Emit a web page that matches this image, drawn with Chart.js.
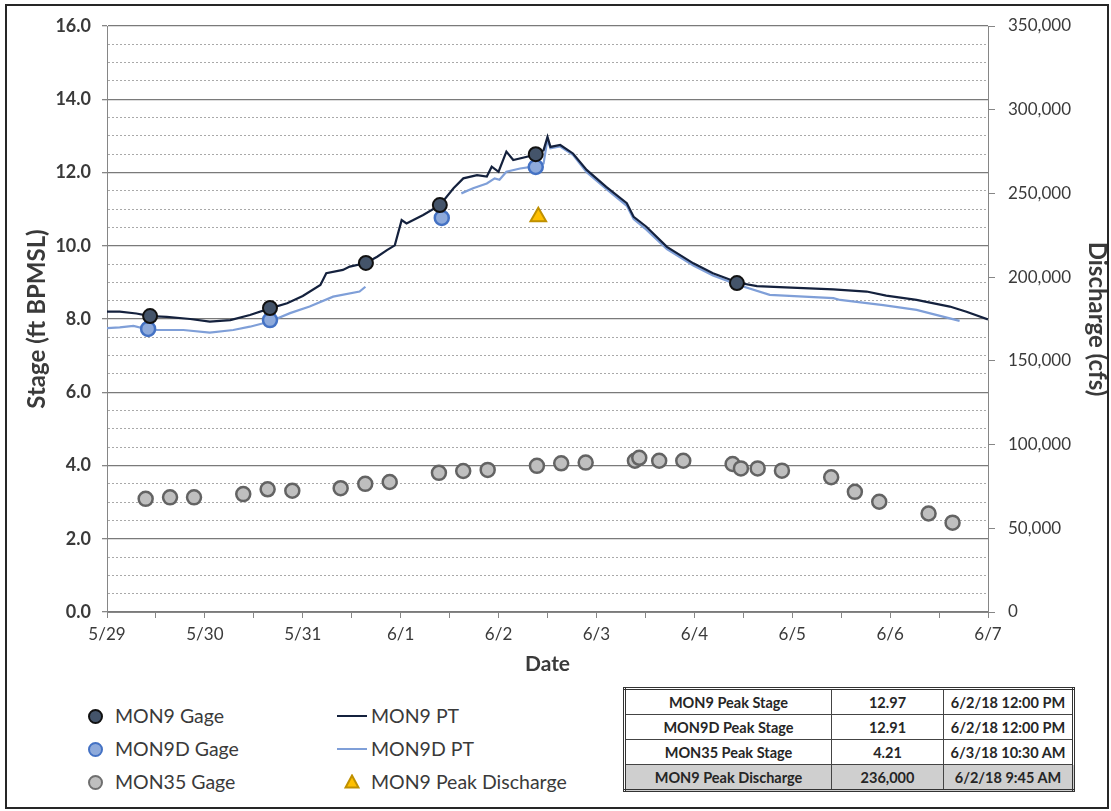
<!DOCTYPE html>
<html>
<head>
<meta charset="utf-8">
<script src="https://cdn.jsdelivr.net/npm/chart.js@4/dist/chart.umd.min.js"></script>
<style>
  html, body { margin: 0; padding: 0; background: #ffffff; }
  body { width: 1111px; height: 811px; position: relative; overflow: hidden; font-family: Lato, "Open Sans", sans-serif; color: #333; }
  #frame { position: absolute; left: 5px; top: 4px; width: 1104px; height: 805px; box-sizing: border-box; border: 2px solid #262626; pointer-events: none; }
  #wrap { position: absolute; left: 0; top: 0; width: 1111px; height: 680px; }
  .leg { position: absolute; font-size: 19.5px; color: #3a3a3a; line-height: 22px; }
  .dot { position: absolute; width: 11px; height: 11px; border-radius: 50%; box-sizing: content-box; }
  .ln { position: absolute; width: 30px; height: 0; }
  table { position: absolute; left: 623px; top: 687px; width: 452px; height: 101px; border-collapse: collapse; border: 3px double #333; font-size: 14.5px; font-weight: bold; color: #262626; }
  td { border: 1px solid #444; text-align: center; padding: 0; height: 24px; }
  tr.shade td { background: #cfcfcf; }
</style>
</head>
<body>
<div id="wrap"><canvas id="c" width="1111" height="680"></canvas></div>

<div class="dot" style="left:88px;top:709px;background:#44546a;border:2px solid #111;"></div>
<div class="leg" style="left:115px;top:705px;">MON9 Gage</div>
<div class="dot" style="left:88px;top:742px;background:#8eaadb;border:2px solid #4472c4;"></div>
<div class="leg" style="left:115px;top:738px;">MON9D Gage</div>
<div class="dot" style="left:88px;top:775px;background:#bfbfbf;border:2px solid #6f6f6f;"></div>
<div class="leg" style="left:115px;top:771px;">MON35 Gage</div>
<div class="ln" style="left:337px;top:715px;border-top:2px solid #14213d;"></div>
<div class="leg" style="left:371px;top:705px;">MON9 PT</div>
<div class="ln" style="left:337px;top:748px;border-top:2px solid #7f9fd8;"></div>
<div class="leg" style="left:371px;top:738px;">MON9D PT</div>
<svg style="position:absolute;left:344px;top:774px;" width="16" height="15"><polygon points="8,1.5 14.5,13.5 1.5,13.5" fill="#ffc000" stroke="#bf9000" stroke-width="2"/></svg>
<div class="leg" style="left:371px;top:771px;">MON9 Peak Discharge</div>

<table>
  <tr><td style="width:205px">MON9 Peak Stage</td><td style="width:111px">12.97</td><td>6/2/18 12:00 PM</td></tr>
  <tr><td>MON9D Peak Stage</td><td>12.91</td><td>6/2/18 12:00 PM</td></tr>
  <tr><td>MON35 Peak Stage</td><td>4.21</td><td>6/3/18 10:30 AM</td></tr>
  <tr class="shade"><td>MON9 Peak Discharge</td><td>236,000</td><td>6/2/18 9:45 AM</td></tr>
</table>
<div id="frame"></div>

<script>
// ---- DATA (x = days since 5/29 00:00) ----
const DAY_LABELS = ['5/29','5/30','5/31','6/1','6/2','6/3','6/4','6/5','6/6','6/7'];

const MON9_GAGE_DAY   = [0.44, 1.665, 2.645, 3.40, 4.38, 6.435];
const MON9_GAGE_STAGE = [8.08, 8.30, 9.53, 11.11, 12.50, 8.98];

const MON9D_GAGE_DAY   = [0.42, 1.665, 3.42, 4.38];
const MON9D_GAGE_STAGE = [7.73, 7.97, 10.76, 12.15];

const MON35_GAGE_DAY   = [0.395, 0.644, 0.889, 1.392, 1.641, 1.893, 2.387, 2.638, 2.888, 3.391, 3.639, 3.889, 4.392, 4.640, 4.890, 5.393, 5.4375, 5.641, 5.887, 6.391, 6.476, 6.647, 6.895, 7.398, 7.640, 7.889, 8.393, 8.638];
const MON35_GAGE_STAGE = [3.09, 3.13, 3.13, 3.22, 3.35, 3.31, 3.38, 3.50, 3.55, 3.80, 3.85, 3.88, 3.99, 4.06, 4.08, 4.13, 4.21, 4.13, 4.13, 4.04, 3.92, 3.92, 3.86, 3.68, 3.28, 3.01, 2.69, 2.44];

const PEAK_Q_DAY = [4.406];
const PEAK_Q_CFS = [236000];

const MON9_PT_DAY   = [0, 0.13, 0.30, 0.44, 0.61, 0.85, 1.05, 1.26, 1.46, 1.665, 1.84, 2.00, 2.18, 2.24, 2.41, 2.48, 2.645, 2.76, 2.86, 2.94, 3.01, 3.06, 3.23, 3.40, 3.54, 3.64, 3.78, 3.88, 3.93, 4.00, 4.08, 4.15, 4.29, 4.37, 4.46, 4.50, 4.53, 4.63, 4.76, 4.90, 5.10, 5.31, 5.38, 5.51, 5.72, 5.99, 6.19, 6.45, 6.64, 6.87, 7.42, 7.76, 7.96, 8.27, 8.61, 8.78, 9.00];
const MON9_PT_STAGE = [8.20, 8.20, 8.15, 8.08, 8.06, 8.00, 7.93, 7.97, 8.11, 8.29, 8.43, 8.63, 8.93, 9.25, 9.34, 9.43, 9.53, 9.70, 9.88, 10.01, 10.70, 10.61, 10.84, 11.11, 11.57, 11.84, 11.93, 11.89, 12.16, 12.02, 12.57, 12.34, 12.43, 12.48, 12.61, 12.97, 12.70, 12.75, 12.52, 12.07, 11.61, 11.16, 10.79, 10.52, 9.97, 9.52, 9.25, 8.99, 8.90, 8.87, 8.81, 8.75, 8.64, 8.52, 8.34, 8.20, 7.99];

const MON9D_PT_DAY   = [0, 0.13, 0.27, 0.44, 0.78, 1.05, 1.29, 1.46, 1.665, 1.87, 2.07, 2.31, 2.58, 2.64, 3.00, 3.62, 3.74, 3.88, 3.96, 4.01, 4.08, 4.22, 4.35, 4.46, 4.50, 4.53, 4.63, 4.76, 4.90, 5.10, 5.31, 5.38, 5.51, 5.72, 5.99, 6.19, 6.45, 6.77, 7.42, 7.49, 7.93, 8.27, 8.71];
const MON9D_PT_STAGE = [7.75, 7.77, 7.81, 7.70, 7.70, 7.63, 7.70, 7.79, 7.93, 8.16, 8.34, 8.61, 8.75, 8.88, null, 11.43, 11.57, 11.70, 11.84, 11.80, 12.02, 12.11, 12.16, 12.25, 12.91, 12.66, 12.71, 12.48, 12.01, 11.55, 11.09, 10.73, 10.44, 9.91, 9.46, 9.19, 8.93, 8.66, 8.57, 8.52, 8.38, 8.25, 7.95];

const pts = (xs, ys) => xs.map((x, i) => ({ x: x, y: ys[i] }));

const TXT = '#3a3a3a';
const AXIS = '#868686';

new Chart(document.getElementById('c'), {
  type: 'scatter',
  data: {
    datasets: [
      { label: 'MON9 Gage', data: pts(MON9_GAGE_DAY, MON9_GAGE_STAGE), yAxisID: 'y',
        pointRadius: 7, pointHoverRadius: 7, backgroundColor: '#44546a', borderColor: '#111111', borderWidth: 2, order: 1 },
      { label: 'MON9D Gage', data: pts(MON9D_GAGE_DAY, MON9D_GAGE_STAGE), yAxisID: 'y',
        pointRadius: 7, pointHoverRadius: 7, backgroundColor: '#8eaadb', borderColor: '#4472c4', borderWidth: 2.5, order: 2 },
      { label: 'MON35 Gage', data: pts(MON35_GAGE_DAY, MON35_GAGE_STAGE), yAxisID: 'y',
        pointRadius: 7, pointHoverRadius: 7, backgroundColor: '#bfbfbf', borderColor: '#636363', borderWidth: 2.5, order: 3 },
      { label: 'MON9 Peak Discharge', data: pts(PEAK_Q_DAY, PEAK_Q_CFS), yAxisID: 'y2',
        pointStyle: 'triangle', pointRadius: 9, pointHoverRadius: 9, backgroundColor: '#ffc000', borderColor: '#bf9000', borderWidth: 2, order: 0 },
      { type: 'line', label: 'MON9D PT', data: pts(MON9D_PT_DAY, MON9D_PT_STAGE), yAxisID: 'y',
        showLine: true, spanGaps: false, pointRadius: 0, borderColor: '#7f9fd8', borderWidth: 2.2, tension: 0, order: 6 },
      { type: 'line', label: 'MON9 PT', data: pts(MON9_PT_DAY, MON9_PT_STAGE), yAxisID: 'y',
        showLine: true, pointRadius: 0, borderColor: '#14213d', borderWidth: 2.2, tension: 0, order: 5 }
    ]
  },
  options: {
    responsive: false,
    animation: false,
    events: [],
    layout: { padding: { left: 0, right: 0, top: 26, bottom: 0 } },
    plugins: { legend: { display: false }, tooltip: { enabled: false } },
    scales: {
      x: {
        type: 'linear', min: 0, max: 9,
        afterFit: s => { s.height = 68; },
        ticks: {
          stepSize: 0.5, autoSkip: false, maxRotation: 0, padding: 6,
          font: { family: 'Lato', size: 17 }, color: TXT,
          callback: v => (Number.isInteger(v) ? DAY_LABELS[v] : '')
        },
        grid: { drawOnChartArea: false, drawTicks: true, tickLength: 6, tickColor: AXIS },
        border: { color: AXIS, width: 1 },
        title: { display: true, text: 'Date', font: { family: 'Lato', size: 21, weight: 'bold' }, color: TXT, padding: { top: 0, bottom: 3 } }
      },
      y: {
        type: 'linear', position: 'left', min: 0, max: 16,
        afterFit: s => { s.width = 107; },
        ticks: {
          stepSize: 0.5, autoSkip: false, padding: 11,
          font: { family: 'Lato', size: 18, weight: 'bold' }, color: TXT,
          callback: v => (v % 2 === 0 ? v.toFixed(1) : '')
        },
        grid: {
          drawTicks: true, tickLength: 5,
          color: c => (c.tick && c.tick.value % 2 === 0 ? '#7a7a7a' : '#a9a9a9'),
          lineWidth: c => (c.tick && c.tick.value % 2 === 0 ? 1.3 : 1),
          tickColor: c => (c.tick && c.tick.value % 2 === 0 ? AXIS : 'rgba(0,0,0,0)')
        },
        border: {
          color: AXIS, width: 1,
          dash: c => (c.tick && c.tick.value % 2 !== 0 ? [2, 2] : [])
        },
        title: { display: true, text: 'Stage (ft BPMSL)', font: { family: 'Lato', size: 24, weight: 'bold' }, color: TXT, padding: { top: 23 } }
      },
      y2: {
        type: 'linear', position: 'right', min: 0, max: 350000,
        afterFit: s => { s.width = 123; },
        ticks: {
          stepSize: 50000, padding: 13,
          font: { family: 'Lato', size: 17 }, color: TXT,
          callback: v => v.toLocaleString('en-US')
        },
        grid: { drawOnChartArea: false, drawTicks: true, tickLength: 7, tickColor: AXIS },
        border: { color: AXIS, width: 1 },
        title: { display: true, text: 'Discharge (cfs)', font: { family: 'Lato', size: 24, weight: 'bold' }, color: TXT, padding: { top: 0 } }
      }
    }
  }
});
</script>
</body>
</html>
